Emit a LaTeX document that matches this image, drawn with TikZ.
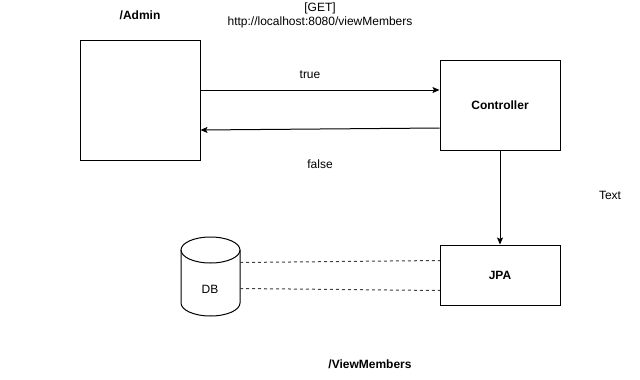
\documentclass[tikz,border=0pt]{standalone}
\usepackage{fontspec}
\setmainfont{Liberation Sans}
\usetikzlibrary{arrows.meta}
\begin{document}
\begin{tikzpicture}[x=1pt,y=-1pt,line width=1pt,
  lbl/.style={font=\fontsize{12}{14}\selectfont,inner sep=0pt},
  blbl/.style={lbl,font=\fontsize{12}{14}\selectfont\bfseries},
  box/.style={draw,minimum width=120pt,inner sep=0pt},
  arr/.style={-{Stealth[length=7pt,width=6pt,inset=1.5pt]}},
  dbline/.style={dashed,dash pattern=on 3pt off 3pt,draw=black!75}]
\useasboundingbox[fill=white] (0,0) rectangle (640,380);

% boxes
\node[box,minimum height=120pt] (admin) at (140,100) {};
\node[box,minimum height=90pt,font=\fontsize{12}{14}\selectfont\bfseries] (ctrl) at (500,105) {Controller};
\node[box,minimum height=60pt,font=\fontsize{12}{14}\selectfont\bfseries] (jpa) at (500,275) {JPA};

% database cylinder
\draw (210.5,250) ellipse [x radius=29.5pt,y radius=13pt];
\draw (181,250) -- (181,303) arc[start angle=180,end angle=360,x radius=29.5pt,y radius=13pt] -- (240,250);
\node[lbl] (db) at (210,289) {DB};

% connectors
\draw[arr] (admin.east |- 0,90) -- (ctrl.west |- 0,90);
\draw[arr] (ctrl.west |- 0,128) -- (admin.east |- 0,130);
\draw[arr] (ctrl.south) -- (jpa.north);
\coordinate (dbA) at (240,262.5);
\coordinate (dbB) at (240,288.5);
\coordinate (jpaA) at (440,260.5);
\coordinate (jpaB) at (440,290.5);
\draw[dbline] (dbA) -- (jpaA);
\draw[dbline] (dbB) -- (jpaB);

% labels
\node[blbl] (tadmin) at (140,15) {/Admin};
\node[lbl,align=center] (tget) at (320,15) {[GET]\\http://localhost:8080/viewMembers};
\node[lbl] (ttrue) at (310,75) {true};
\node[lbl] (tfalse) at (320,164) {false};
\node[lbl] (ttext) at (610,195) {Text};
\node[blbl] (tview) at (370,364) {/ViewMembers};
\end{tikzpicture}
\end{document}
